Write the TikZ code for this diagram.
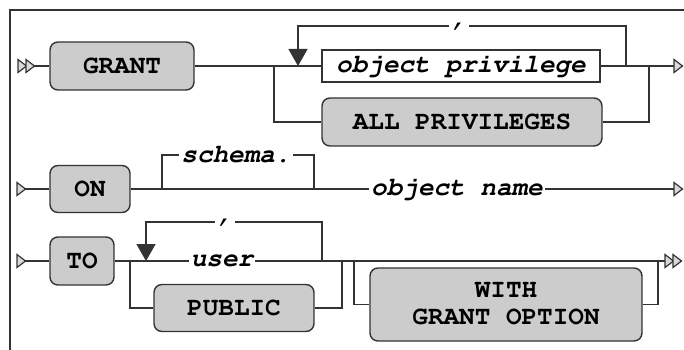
\documentclass[tikz,border=0pt]{standalone}
\usepackage[T1]{fontenc}
\newcommand\courb{\fontencoding{T1}\fontfamily{pcr}\fontseries{b}\fontshape{n}\fontsize{26}{27}\selectfont}
\newcommand\courbi{\fontencoding{T1}\fontfamily{pcr}\fontseries{b}\fontshape{sl}\fontsize{26}{27}\selectfont}
\usetikzlibrary{arrows.meta}
\begin{document}
\begin{tikzpicture}[x=1pt,y=-1pt,
  line/.style={draw=black!80, line width=1.4pt},
  kw/.style={draw=black!80, fill=black!20, rounded corners=8pt, line width=1.4pt, inner sep=0pt,
    font=\courb},
  refbox/.style={draw=black!80, fill=white, line width=1.4pt, inner sep=0pt,
    font=\courbi},
  lbl/.style={fill=white, inner sep=2pt, font=\courbi},
  trimark/.style={draw=black!80, fill=black!15, line width=1.2pt, line join=miter},
  looparrow/.style={line, -{Triangle[length=17pt,width=19pt]}},
  pics/tripic/.style={code={\draw[trimark] (0,-6.5) -- (8.5,0) -- (0,6.5) -- cycle;}}
]
\useasboundingbox (0,0) rectangle (684,350);
% frame
\draw[line] (684,10) -- (10,10) -- (10,350);

% ---------- row 1 ----------
\coordinate (s1) at (34,66);
\node[kw, minimum width=144pt, minimum height=48pt] (grant) at (122,66) {GRANT};
\node[refbox, minimum width=278pt, minimum height=32pt] (op) at (461,66) {object privilege};
\node[kw, minimum width=280pt, minimum height=48pt] (allp) at (462,122) {ALL PRIVILEGES};
\coordinate (b1l) at (274,66);
\coordinate (b1r) at (649,66);
\coordinate (e1) at (674,66);
\coordinate (l1r) at (626,66);
\coordinate (l1l) at (298,66);
\draw[line] (s1) -- (grant);
\draw[line] (grant) -- (op);
\draw[line] (op) -- (e1);
\draw[line] (b1l) |- (allp.west);
\draw[line] (allp.east) -| (b1r);
\draw[looparrow] (l1r) -- ++(0,-40) -| (l1l);
\node[lbl] (c1) at (459,26) {,};
\pic at (18,66) {tripic};
\pic at (26,66) {tripic};
\pic at (674,66) {tripic};

% ---------- row 2 ----------
\coordinate (s2) at (25,189);
\node[kw, minimum width=80pt, minimum height=47pt] (on) at (90,189) {ON};
\coordinate (sl) at (162,189);
\coordinate (sr) at (314,189);
\coordinate (e2) at (674,189);
\draw[line] (s2) -- (on);
\draw[line] (on) -- (e2);
\draw[line] (sl) -- ++(0,-34) -| (sr);
\node[lbl] (schema) at (236,155) {schema.};
\node[lbl] (objname) at (457,189) {object name};
\pic at (17,189) {tripic};
\pic at (674,189) {tripic};

% ---------- row 3 ----------
\coordinate (s3) at (25,261);
\node[kw, minimum width=64pt, minimum height=48pt] (to) at (82,261) {TO};
\node[kw, minimum width=160pt, minimum height=47pt] (public) at (234,308) {PUBLIC};
\node[kw, minimum width=272pt, minimum height=73pt, align=center] (wgo) at (506,304.5) {WITH\\GRANT OPTION};
\coordinate (b3l) at (130,261);
\coordinate (b3r) at (342,261);
\coordinate (b4l) at (354,261);
\coordinate (b4r) at (658,261);
\coordinate (e3) at (665,261);
\coordinate (l3r) at (322,261);
\coordinate (l3l) at (146,261);
\draw[line] (s3) -- (to);
\draw[line] (to) -- (e3);
\draw[line] (b3l) |- (public);
\draw[line] (public) -| (b3r);
\draw[line] (b4l) |- (wgo);
\draw[line] (wgo) -| (b4r);
\draw[looparrow] (l3r) -- ++(0,-39) -| (l3l);
\node[lbl] (user) at (222,261) {user};
\node[lbl] (c3) at (225,222) {,};
\pic at (17,261) {tripic};
\pic at (665,261) {tripic};
\pic at (673,261) {tripic};
\end{tikzpicture}
\end{document}
